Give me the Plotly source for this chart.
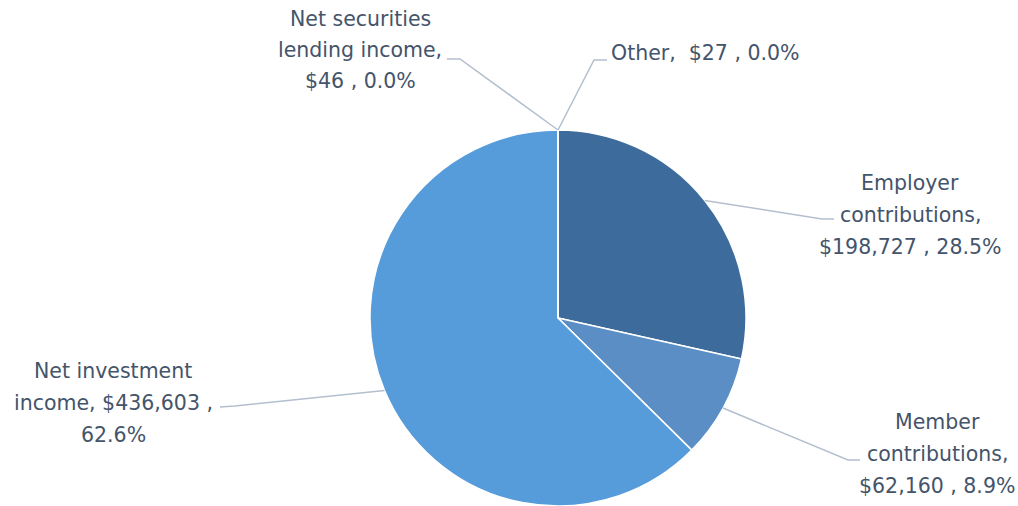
import math
import plotly.graph_objects as go

# ---- data ----
categories = ["Other", "Employer contributions", "Member contributions",
              "Net investment income", "Net securities lending income"]
values = [27, 198727, 62160, 436603, 46]
colors = ["#4a7fb3", "#3d6c9c", "#5a8ec5", "#569cdb", "#5fa2df"]
# label text split into display lines (same order as categories)
label_lines = [
    ["Other,  ${v} , {p}"],
    ["Employer", "contributions,", "${v} , {p}"],
    ["Member", "contributions,", "${v} , {p}"],
    ["Net investment", "income, ${v} ,", "{p}"],
    ["Net securities", "lending income,", "${v} , {p}"],
]

# ---- layout constants (page pixels) ----
W, H = 1018, 506
CX, CY, R = 558, 318, 188
TEXT_COLOR = "#44546a"
LEADER_COLOR = "#b3bfce"
FONT = "DejaVu Sans"
FS = 20.5

# label placement: text x, first line center y, line step, xanchor, leader elbow, leader end
label_pos = [
    dict(x=610, y=53, step=32, xanchor="left", elbow=(594, 60), end=(607, 60)),
    dict(x=910, y=183, step=32, xanchor="center", elbow=(822, 219), end=(834, 219)),
    dict(x=937, y=422, step=32, xanchor="center", elbow=(848, 460), end=(860, 460)),
    dict(x=113, y=371, step=32, xanchor="center", elbow=(235, 406), end=(220, 407)),
    dict(x=360, y=19, step=31, xanchor="center", elbow=(460, 59), end=(447, 59)),
]


def px(x):
    return x / W


def py(y):
    return 1 - y / H


total = sum(values)
fig = go.Figure(go.Pie(
    labels=categories, values=values, sort=False, direction="clockwise",
    rotation=0, textinfo="none", hoverinfo="label+value+percent",
    marker=dict(colors=colors, line=dict(color="white", width=1.5)),
    domain=dict(x=[px(CX - R), px(CX + R)], y=[max(0, py(CY + R)), py(CY - R)]),
    showlegend=False,
))

annotations = []
shapes = []
cum = 0
for i, v in enumerate(values):
    mid = (cum + v / 2) / total * 2 * math.pi
    cum += v
    sx = CX + R * math.sin(mid)
    sy = CY - R * math.cos(mid)
    pct = f"{v / total * 100:.1f}%"
    lp = label_pos[i]
    for k, line in enumerate(label_lines[i]):
        annotations.append(dict(
            x=px(lp["x"]), y=py(lp["y"] + k * lp["step"]), xref="paper", yref="paper",
            text=line.format(v=f"{v:,}", p=pct), showarrow=False,
            xanchor=lp["xanchor"], yanchor="middle", borderpad=0,
            font=dict(family=FONT, size=FS, color=TEXT_COLOR),
        ))
    ex, ey = lp["elbow"]
    tx, ty = lp["end"]
    shapes.append(dict(
        type="path", xref="paper", yref="paper",
        path=f"M {px(sx)},{py(sy)} L {px(ex)},{py(ey)} L {px(tx)},{py(ty)}",
        line=dict(color=LEADER_COLOR, width=1.5),
    ))

fig.update_layout(
    width=W, height=H, margin=dict(l=0, r=0, t=0, b=0),
    paper_bgcolor="white", plot_bgcolor="white",
    annotations=annotations, shapes=shapes,
)
fig.write_html(
    "out.html",
    config={"displayModeBar": False},
    post_script="document.body.style.margin='0';document.body.style.overflow='hidden';",
)
